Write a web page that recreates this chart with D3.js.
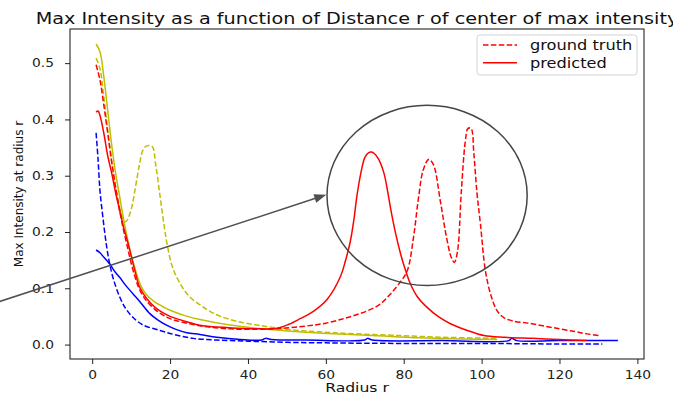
<!DOCTYPE html>
<html>
<head>
<meta charset="utf-8">
<script src="https://cdn.jsdelivr.net/npm/d3@7"></script>
<style>
    body { margin: 0; background: #fff; }
    svg { display: block; font-family: "DejaVu Sans", sans-serif; }
</style>
</head>
<body>
<svg id="chart" width="673" height="394"></svg>
<script>
// Data: radius r and max intensity per series
const redTruthR = [1, 2, 3, 4, 5, 6, 7, 8, 9, 10, 11, 12, 13, 14, 16, 18, 20, 25, 30, 35, 40, 47, 55, 60, 64, 67, 70.7, 74, 76.6, 79, 80.9, 82.5, 83.8, 85, 86.4, 87.6, 89.4, 91, 92.2, 93, 93.8, 94.8, 95.8, 96.5, 97.3, 98, 98.8, 99.7, 101, 102.5, 104, 105.7, 108, 112, 116, 120, 124, 127, 130];
const redTruthV = [0.497, 0.47, 0.425, 0.375, 0.325, 0.28, 0.24, 0.205, 0.175, 0.145, 0.12, 0.1, 0.087, 0.077, 0.063, 0.053, 0.046, 0.037, 0.031, 0.028, 0.027, 0.028, 0.033, 0.038, 0.045, 0.051, 0.06, 0.072, 0.09, 0.11, 0.131, 0.19, 0.261, 0.31, 0.329, 0.32, 0.255, 0.19, 0.155, 0.146, 0.165, 0.273, 0.36, 0.384, 0.384, 0.34, 0.27, 0.214, 0.13, 0.085, 0.06, 0.048, 0.042, 0.038, 0.033, 0.028, 0.023, 0.019, 0.016];

const redPredR = [1, 1.5, 2, 3, 4, 5, 6, 7, 8, 9, 10, 11, 12, 13, 14, 16, 18, 20, 24, 28, 35, 42, 47.5, 50.5, 53.4, 57, 60.3, 63.7, 65, 66.3, 67.2, 68, 69, 70, 71, 71.7, 72.5, 73.5, 74.9, 75.8, 76.6, 77.9, 79.2, 80.5, 81.7, 83.5, 86, 89, 92, 96, 100.6, 106, 113, 120, 127];
const redPredV = [0.413, 0.415, 0.407, 0.375, 0.335, 0.305, 0.27, 0.24, 0.21, 0.185, 0.158, 0.13, 0.105, 0.092, 0.082, 0.067, 0.057, 0.05, 0.041, 0.034, 0.03, 0.028, 0.029, 0.036, 0.046, 0.06, 0.08, 0.12, 0.148, 0.184, 0.222, 0.265, 0.305, 0.332, 0.341, 0.342, 0.339, 0.33, 0.305, 0.275, 0.243, 0.198, 0.161, 0.131, 0.108, 0.085, 0.066, 0.049, 0.037, 0.026, 0.016, 0.013, 0.011, 0.009, 0.007];

const yellowTruthR = [1, 2, 3, 4, 5, 6, 7, 8, 8.5, 9, 10, 11, 12, 13, 14, 15.4, 16.3, 17.5, 18.5, 19.2, 20.5, 22.6, 25, 27.8, 30, 33, 38, 43, 50, 62, 79, 90, 104];
const yellowTruthV = [0.509, 0.49, 0.44, 0.38, 0.325, 0.28, 0.245, 0.222, 0.218, 0.221, 0.24, 0.275, 0.315, 0.345, 0.353, 0.352, 0.32, 0.26, 0.21, 0.18, 0.14, 0.108, 0.085, 0.07, 0.06, 0.05, 0.04, 0.034, 0.027, 0.021, 0.016, 0.013, 0.011];

const yellowPredR = [1, 2, 3, 4, 5, 6, 7, 8, 9, 10, 11, 12, 13, 14, 16, 18, 20, 24, 28, 35, 45, 55, 62, 72, 84, 95, 104];
const yellowPredV = [0.534, 0.52, 0.475, 0.415, 0.355, 0.305, 0.265, 0.225, 0.19, 0.16, 0.135, 0.113, 0.098, 0.088, 0.076, 0.068, 0.061, 0.051, 0.044, 0.035, 0.027, 0.022, 0.019, 0.016, 0.012, 0.01, 0.009];

const blueTruthR = [1, 1.5, 2, 2.6, 3.2, 3.8, 4.5, 5.5, 7.1, 8.5, 10.5, 13, 17.4, 21, 26, 32, 40, 50, 60, 80, 100, 120, 131];
const blueTruthV = [0.376, 0.33, 0.273, 0.235, 0.2, 0.17, 0.143, 0.115, 0.084, 0.065, 0.048, 0.035, 0.025, 0.018, 0.011, 0.008, 0.006, 0.004, 0.003, 0.002, 0.002, 0.001, 0.001];

const bluePredR = [1, 2, 3, 4.5, 6, 7.1, 8.5, 10.5, 12.5, 14.8, 17, 19.2, 21.5, 24.3, 27.7, 32, 38, 43.5, 44.5, 46, 55, 70, 70.7, 72, 90, 107, 107.7, 109, 120, 135];
const bluePredV = [0.168, 0.163, 0.155, 0.143, 0.128, 0.119, 0.106, 0.09, 0.074, 0.055, 0.043, 0.034, 0.027, 0.021, 0.018, 0.013, 0.009, 0.008, 0.011, 0.009, 0.008, 0.008, 0.011, 0.008, 0.007, 0.007, 0.011, 0.007, 0.007, 0.007];

const xTicks = [0, 20, 40, 60, 80, 100, 120, 140];
const yTicks = [0.0, 0.1, 0.2, 0.3, 0.4, 0.5];
const legendLabels = ["ground truth", "predicted"];

// Annotation (data units): circled peak region and the arrow pointing at it
const circleCenter = [86, 0.265];
const circleRadius = [25.7, 0.16];
const arrowFrom = [-24, 0.076];
const arrowTo = [60.1, 0.266];

const series = [
    { r: blueTruthR, v: blueTruthV, color: "#0000ff", dashed: true },
    { r: bluePredR, v: bluePredV, color: "#0000ff", dashed: false },
    { r: yellowTruthR, v: yellowTruthV, color: "#bfbf00", dashed: true },
    { r: yellowPredR, v: yellowPredV, color: "#bfbf00", dashed: false },
    { r: redTruthR, v: redTruthV, color: "#ff0000", dashed: true },
    { r: redPredR, v: redPredV, color: "#ff0000", dashed: false },
];

const margin = { top: 29, right: 29, bottom: 35, left: 70 };
const W = 673, H = 394;
const width = W - margin.left - margin.right;
const height = H - margin.top - margin.bottom;
const TEXT_STRETCH = 1.15;
const DASH = "5.5,2.4";

const svg = d3.select("#chart");

// matplotlib-like 5% margins around the data
const allR = series.flatMap((s) => s.r);
const allV = series.flatMap((s) => s.v);
const [rMin, rMax] = d3.extent(allR);
const [vMin, vMax] = d3.extent(allV);
const rPad = (rMax - rMin) * 0.05;
const vPad = (vMax - vMin) * 0.05;

const x = d3.scaleLinear().domain([rMin - rPad, rMax + rPad]).range([margin.left, margin.left + width]);
const y = d3.scaleLinear().domain([vMin - vPad, vMax + vPad]).range([margin.top + height, margin.top]);

function stretch(sel, k) {
    sel.each(function () {
        const len = this.getComputedTextLength();
        d3.select(this).attr("textLength", len * k).attr("lengthAdjust", "spacingAndGlyphs");
    });
}

svg.append("defs")
    .append("clipPath")
    .attr("id", "plotclip")
    .append("rect")
    .attr("x", margin.left)
    .attr("y", margin.top)
    .attr("width", width)
    .attr("height", height);

// Lines
const line = d3
    .line()
    .x((d) => x(d[0]))
    .y((d) => y(d[1]))
    .curve(d3.curveCatmullRom.alpha(0.5));

svg.append("g")
    .attr("clip-path", "url(#plotclip)")
    .selectAll("path")
    .data(series)
    .join("path")
    .attr("d", (s) => line(s.r.map((r, i) => [r, s.v[i]])))
    .attr("fill", "none")
    .attr("stroke", (s) => s.color)
    .attr("stroke-width", 1.5)
    .attr("stroke-dasharray", (s) => (s.dashed ? DASH : null))
    .attr("stroke-linejoin", "round");

// Axes
const xAxis = d3.axisBottom(x).tickValues(xTicks).tickFormat(d3.format("d")).tickSize(5).tickPadding(6);
const yAxis = d3.axisLeft(y).tickValues(yTicks).tickFormat(d3.format(".1f")).tickSize(5).tickPadding(11);

const gx = svg.append("g").attr("transform", `translate(0,${margin.top + height})`).call(xAxis);
const gy = svg.append("g").attr("transform", `translate(${margin.left},0)`).call(yAxis);
[gx, gy].forEach((g) => {
    g.select(".domain").remove();
    g.selectAll(".tick line").attr("stroke", "#222").attr("stroke-width", 1);
    g.selectAll(".tick text").attr("fill", "#222").style("font-size", "12px").style("font-family", "DejaVu Sans");
    stretch(g.selectAll(".tick text"), TEXT_STRETCH);
});

svg.append("rect")
    .attr("x", margin.left)
    .attr("y", margin.top)
    .attr("width", width)
    .attr("height", height)
    .attr("fill", "none")
    .attr("stroke", "#111")
    .attr("stroke-width", 1);

// Title and axis labels
const title = svg.append("text")
    .attr("x", margin.left + width / 2)
    .attr("y", 24)
    .attr("text-anchor", "middle")
    .style("font-size", "16px")
    .attr("fill", "#111")
    .text("Max Intensity as a function of Distance r of center of max intensity");
stretch(title, 1.2);

const xLabel = svg.append("text")
    .attr("x", margin.left + width / 2)
    .attr("y", 392)
    .attr("text-anchor", "middle")
    .style("font-size", "13px")
    .attr("fill", "#111")
    .text("Radius r");
stretch(xLabel, 1.2);

svg.append("text")
    .attr("transform", `translate(23,${margin.top + height / 2}) rotate(-90)`)
    .attr("text-anchor", "middle")
    .style("font-size", "12px")
    .attr("fill", "#111")
    .text("Max Intensity at radius r");

// Annotation: ellipse and arrow
svg.append("ellipse")
    .attr("cx", x(circleCenter[0]))
    .attr("cy", y(circleCenter[1]))
    .attr("rx", x(circleCenter[0] + circleRadius[0]) - x(circleCenter[0]))
    .attr("ry", y(circleCenter[1]) - y(circleCenter[1] + circleRadius[1]))
    .attr("fill", "none")
    .attr("stroke", "#454545")
    .attr("stroke-width", 1.5);

const ax0 = x(arrowFrom[0]), ay0 = y(arrowFrom[1]);
const ax1 = x(arrowTo[0]), ay1 = y(arrowTo[1]);
const ang = Math.atan2(ay1 - ay0, ax1 - ax0);
const headLen = 12, headHalf = 4.5;
svg.append("line")
    .attr("x1", ax0)
    .attr("y1", ay0)
    .attr("x2", ax1 - Math.cos(ang) * headLen * 0.8)
    .attr("y2", ay1 - Math.sin(ang) * headLen * 0.8)
    .attr("stroke", "#505050")
    .attr("stroke-width", 1.5);
const bx = ax1 - Math.cos(ang) * headLen, by = ay1 - Math.sin(ang) * headLen;
svg.append("path")
    .attr("d", `M${ax1},${ay1}L${bx - Math.sin(ang) * headHalf},${by + Math.cos(ang) * headHalf}L${bx + Math.sin(ang) * headHalf},${by - Math.cos(ang) * headHalf}Z`)
    .attr("fill", "#505050");

// Legend
const legend = svg.append("g").attr("transform", "translate(477,35)");
legend.append("rect")
    .attr("width", 160)
    .attr("height", 40)
    .attr("rx", 3)
    .attr("fill", "#fff")
    .attr("fill-opacity", 0.8)
    .attr("stroke", "#d5d5d5");
const items = legend.selectAll(".item")
    .data(legendLabels)
    .join("g")
    .attr("class", "item")
    .attr("transform", (d, i) => `translate(0,${10 + i * 17.7})`);
items.append("line")
    .attr("x1", 6)
    .attr("x2", 40)
    .attr("stroke", "#ff0000")
    .attr("stroke-width", 1.5)
    .attr("stroke-dasharray", (d, i) => (i === 0 ? DASH : null));
const legendText = items.append("text")
    .attr("x", 53)
    .attr("y", 4.8)
    .style("font-size", "13.5px")
    .attr("fill", "#111")
    .text((d) => d);
stretch(legendText, 1.2);
</script>
</body>
</html>
